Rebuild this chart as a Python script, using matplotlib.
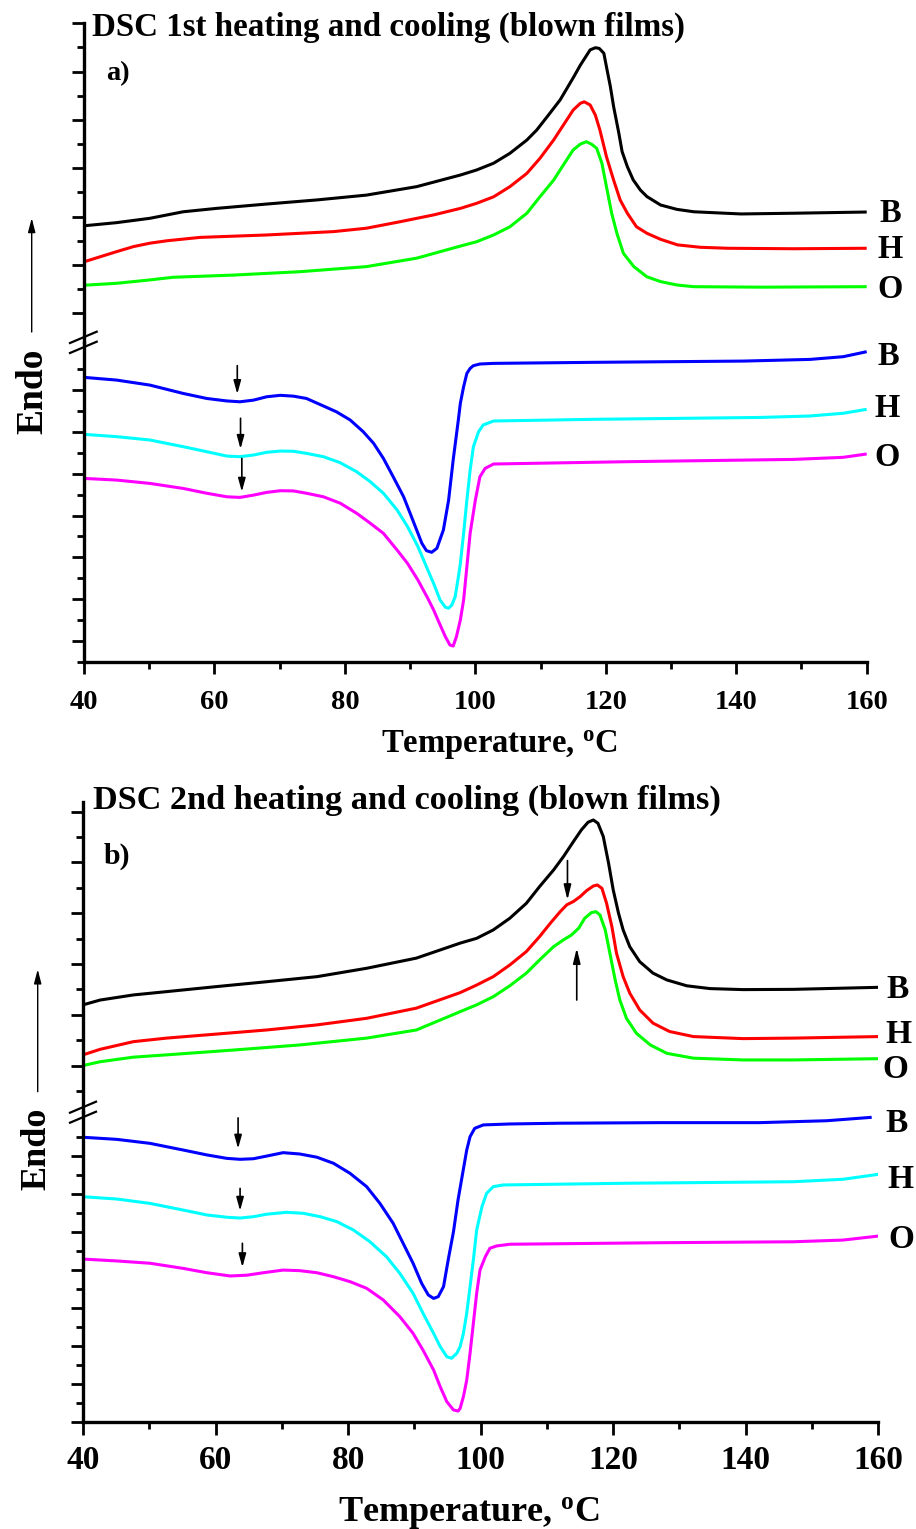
import matplotlib
matplotlib.use('Agg')
import matplotlib.pyplot as plt
from matplotlib.lines import Line2D
from matplotlib.patches import FancyArrowPatch
from matplotlib.ticker import FixedLocator, MultipleLocator

plt.rcParams['font.family'] = ['Liberation Serif', 'DejaVu Serif']
plt.rcParams['font.weight'] = 'bold'
plt.rcParams['mathtext.fontset'] = 'custom'
plt.rcParams['mathtext.rm'] = 'Liberation Serif:bold'
plt.rcParams['mathtext.bf'] = 'Liberation Serif:bold'
plt.rcParams['mathtext.it'] = 'Liberation Serif:bold:italic'

# ---------------- data (arbitrary heat-flow units, offset curves) ----------------
# Panel a) 1st heating (upper part)
a_heat_B_T = [40, 45.0, 50.1, 55.2, 60.3, 68.0, 75.7, 83.3, 91.0, 97.7, 100.2, 102.8, 105.3,
              107.9, 109.4, 111.0, 113.0, 115.1, 116.1, 117.6, 118.4, 119.0, 119.7, 120.1,
              120.7, 121.2, 122.0, 122.5, 123.3, 124.2, 125.3, 126.3, 128.4, 130.9, 133.5,
              140.7, 148.8, 160]
a_heat_B_V = [3.62, 3.75, 3.93, 4.2, 4.34, 4.52, 4.69, 4.89, 5.24, 5.72, 5.93, 6.21, 6.62,
              7.17, 7.58, 8.13, 8.83, 9.79, 10.27, 10.9, 10.99, 10.96, 10.76, 10.2,
              9.38, 8.55, 7.45, 6.69, 6.07, 5.52, 5.1, 4.83, 4.48, 4.3, 4.2,
              4.11, 4.14, 4.19]
a_heat_H_T = [40, 42.5, 45.0, 47.6, 50.1, 52.7, 57.8, 68.0, 78.3, 83.3, 88.5, 93.6, 97.7,
              100.2, 102.8, 105.3, 107.9, 109.9, 112.0, 113.5, 115.0, 116.1, 116.7, 117.6,
              118.4, 119.1, 120.1, 121.2, 122.2, 123.3, 124.7, 126.3, 128.4, 131.0, 134.5,
              138.7, 148.8, 160]
a_heat_H_V = [2.13, 2.34, 2.55, 2.76, 2.9, 3.0, 3.14, 3.24, 3.38, 3.52, 3.79, 4.07, 4.34,
              4.55, 4.82, 5.24, 5.79, 6.41, 7.17, 7.79, 8.41, 8.69, 8.75, 8.62,
              8.2, 7.58, 6.48, 5.51, 4.69, 4.14, 3.58, 3.31, 3.06, 2.83, 2.73,
              2.69, 2.67, 2.69]
a_heat_O_T = [40, 45.0, 50.1, 53.7, 62.9, 73.1, 83.3, 91.0, 97.7, 100.2, 102.8, 105.3, 107.9,
              109.9, 112.0, 113.5, 115.0, 116.1, 117.0, 117.8, 118.6, 119.4, 120.1, 120.9,
              121.7, 122.7, 124.3, 126.3, 128.4, 130.9, 133.5, 143.7, 160]
a_heat_O_V = [1.16, 1.24, 1.38, 1.49, 1.58, 1.72, 1.93, 2.28, 2.78, 2.96, 3.24, 3.58, 4.14,
              4.82, 5.51, 6.14, 6.76, 7.0, 7.1, 7.0, 6.83, 6.21, 5.24, 4.14,
              3.31, 2.48, 1.93, 1.51, 1.31, 1.17, 1.1, 1.08, 1.1]

# Panel a) 1st cooling (lower part)
a_cool_B_T = [40, 45.0, 50.1, 55.2, 58.8, 61.9, 63.9, 66.0, 68.0, 70.1, 72.1, 74.1, 76.7,
              78.7, 80.8, 82.8, 84.4, 85.9, 87.4, 89.0, 90.0, 91.0, 91.8, 92.5, 93.3, 94.1,
              95.1, 95.9, 96.6, 97.4, 97.7, 98.2, 98.7, 99.2, 99.7, 100.7, 102.8, 118.1,
              141.1, 151.3, 156.4, 160]
a_cool_B_V = [13.62, 13.49, 13.25, 12.85, 12.61, 12.49, 12.45, 12.53, 12.69, 12.76, 12.72,
              12.61, 12.25, 11.97, 11.58, 11.02, 10.46, 9.74, 8.86, 7.9, 7.11, 6.31, 5.67,
              5.32, 5.24, 5.43, 6.31, 7.74, 9.66, 11.6, 12.38, 13.17, 13.81, 14.05, 14.18,
              14.26, 14.29, 14.34, 14.4, 14.48, 14.61, 14.85]
a_cool_H_T = [40, 45.0, 50.1, 55.2, 58.8, 61.9, 63.9, 66.0, 68.0, 70.1, 72.1, 74.1, 76.7,
              79.3, 81.8, 83.9, 85.9, 88.0, 89.6, 91.2, 92.5, 93.6, 94.6, 95.4, 95.9, 96.4,
              96.9, 97.4, 97.7, 98.2, 98.7, 99.2, 99.7, 100.5, 101.2, 102.8, 118.1, 143.7,
              151.3, 156.4, 160]
a_cool_H_V = [10.89, 10.78, 10.62, 10.3, 10.06, 9.85, 9.82, 9.9, 10.03, 10.09, 10.08, 9.98,
              9.82, 9.53, 9.1, 8.62, 8.07, 7.27, 6.47, 5.51, 4.55, 3.75, 2.95, 2.61, 2.56,
              2.72, 3.11, 4.07, 4.7, 6.15, 7.74, 9.18, 10.3, 11.02, 11.34, 11.53, 11.61,
              11.7, 11.77, 11.9, 12.09]
a_cool_O_T = [40, 45.0, 50.1, 55.2, 58.8, 61.9, 63.9, 66.0, 68.0, 70.1, 72.1, 74.1, 76.7,
              79.3, 81.8, 83.9, 85.9, 88.0, 89.6, 91.2, 92.7, 93.6, 94.6, 95.4, 96.1, 96.6,
              97.1, 97.7, 98.2, 98.7, 99.2, 100.0, 100.7, 101.5, 102.8, 123.2, 148.8, 156.4,
              160]
a_cool_O_V = [8.78, 8.7, 8.54, 8.3, 8.07, 7.9, 7.87, 7.98, 8.11, 8.19, 8.18, 8.07, 7.9,
              7.59, 7.11, 6.63, 6.15, 5.35, 4.71, 3.91, 3.04, 2.48, 1.76, 1.2, 0.8, 0.75,
              1.2, 2.0, 2.95, 4.55, 6.15, 7.74, 8.86, 9.26, 9.47, 9.58, 9.69, 9.79,
              9.95]

# Panel b) 2nd heating (upper part)
b_heat_B_T = [40, 42.6, 47.6, 52.6, 60.2, 67.7, 75.3, 82.8, 90.3, 96.9, 99.4, 101.9, 104.4,
              106.9, 108.9, 111.0, 112.5, 114.0, 115.2, 116.2, 117.0, 117.7, 118.5, 119.3,
              120.0, 120.8, 121.5, 122.5, 124.0, 126.0, 128.1, 131.1, 134.6, 139.6, 147.2,
              160]
b_heat_B_V = [3.39, 3.58, 3.78, 3.91, 4.11, 4.3, 4.5, 4.83, 5.23, 5.82, 6.01, 6.34, 6.8,
              7.39, 8.05, 8.7, 9.23, 9.82, 10.28, 10.58, 10.67, 10.54, 10.02, 8.97,
              7.92, 7.0, 6.34, 5.68, 5.09, 4.64, 4.37, 4.14, 4.03, 3.99, 4.0,
              4.08]
b_heat_H_T = [40, 42.6, 47.6, 52.6, 60.2, 67.7, 75.3, 82.8, 90.3, 96.9, 99.4, 101.9, 104.4,
              106.9, 108.9, 110.5, 112.0, 113.0, 114.0, 115.0, 116.0, 117.0, 117.6, 118.3,
              119.0, 119.8, 120.5, 121.5, 122.5, 124.0, 126.0, 128.5, 132.1, 139.6, 147.2,
              160]
b_heat_H_V = [1.42, 1.64, 1.94, 2.08, 2.24, 2.4, 2.6, 2.86, 3.26, 3.87, 4.17, 4.5, 4.96,
              5.49, 6.08, 6.6, 7.06, 7.33, 7.46, 7.65, 7.89, 8.07, 8.11, 7.98,
              7.39, 6.47, 5.42, 4.5, 3.85, 3.19, 2.67, 2.34, 2.14, 2.06, 2.08,
              2.14]
b_heat_O_T = [40, 42.6, 47.6, 52.6, 62.7, 72.7, 82.8, 90.3, 96.9, 99.4, 101.9, 104.4, 106.9,
              108.9, 111.0, 112.5, 113.7, 114.8, 115.7, 116.7, 117.4, 118.0, 118.8, 119.5,
              120.3, 121.0, 122.0, 123.5, 125.6, 128.1, 132.1, 139.6, 147.2, 160]
b_heat_O_V = [1.0, 1.15, 1.33, 1.42, 1.61, 1.81, 2.08, 2.4, 3.12, 3.39, 3.71, 4.14, 4.64,
              5.16, 5.68, 5.95, 6.14, 6.41, 6.8, 7.02, 7.06, 6.93, 6.34, 5.42,
              4.37, 3.58, 2.86, 2.27, 1.81, 1.48, 1.29, 1.22, 1.22, 1.27]

# Panel b) 2nd cooling (lower part)
b_cool_B_T = [40, 45.1, 50.1, 55.1, 58.7, 61.7, 63.7, 65.7, 67.7, 70.2, 72.7, 75.3, 77.8,
              80.3, 82.8, 84.8, 86.8, 88.3, 89.8, 91.1, 92.1, 92.9, 93.6, 94.4, 95.1, 95.9,
              96.6, 97.4, 97.9, 98.4, 99.1, 100.4, 104.4, 112.0, 127.1, 142.1, 152.2, 159.0]
b_cool_B_V = [14.97, 14.86, 14.65, 14.3, 14.04, 13.86, 13.81, 13.84, 13.98, 14.16, 14.09,
              13.92, 13.6, 13.07, 12.37, 11.49, 10.44, 9.39, 8.34, 7.28, 6.67, 6.49, 6.58,
              7.11, 8.51, 10.0, 11.7, 13.3, 14.3, 15.0, 15.44, 15.62, 15.67, 15.71,
              15.74, 15.74, 15.84, 16.02]
b_cool_H_T = [40, 45.1, 50.1, 55.1, 58.7, 61.7, 63.7, 65.7, 67.7, 70.7, 73.2, 75.8, 78.3,
              80.8, 83.3, 85.8, 87.8, 89.8, 91.3, 92.9, 93.9, 94.9, 95.6, 96.4, 96.9, 97.4,
              97.9, 98.4, 98.9, 99.4, 100.2, 100.9, 101.9, 103.4, 122.0, 147.2, 154.7, 160]
b_cool_H_V = [11.84, 11.72, 11.49, 11.14, 10.88, 10.76, 10.72, 10.79, 10.92, 11.02, 10.97,
              10.79, 10.53, 10.09, 9.47, 8.68, 7.81, 6.76, 5.71, 4.65, 3.95, 3.42, 3.34,
              3.6, 3.95, 4.65, 5.71, 7.11, 8.51, 10.09, 11.32, 12.02, 12.37, 12.46, 12.55,
              12.63, 12.76, 13.02]
b_cool_O_T = [40, 45.1, 50.1, 55.1, 58.7, 62.2, 64.7, 67.2, 70.2, 72.7, 75.3, 77.8, 80.3,
              82.8, 85.3, 87.8, 89.8, 91.3, 92.9, 93.9, 94.9, 95.9, 96.6, 96.9, 97.4, 97.9,
              98.4, 98.9, 99.4, 99.9, 100.7, 101.4, 102.4, 104.4, 127.1, 147.2, 154.7, 160]
b_cool_O_V = [8.56, 8.46, 8.34, 8.07, 7.84, 7.67, 7.71, 7.84, 7.98, 7.95, 7.84, 7.63, 7.37,
              7.02, 6.41, 5.53, 4.65, 3.77, 2.72, 1.84, 1.05, 0.62, 0.56, 0.7, 1.32, 2.19,
              3.6, 5.18, 6.76, 7.98, 8.68, 9.13, 9.25, 9.34, 9.42, 9.47, 9.56, 9.77]

# small marker arrows (temperature, tail value, tip value)
a_cool_arrow_T = [63.5, 64.0, 64.2]
a_cool_arrow_tail = [14.18, 11.66, 9.74]
a_cool_arrow_tip = [12.82, 10.19, 8.14]
b_heat_arrow_T = [113.1, 114.5]
b_heat_arrow_tail = [9.07, 3.58]
b_heat_arrow_tip = [7.52, 5.62]
b_cool_arrow_T = [63.4, 63.7, 64.05]
b_cool_arrow_tail = [15.99, 12.28, 9.39]
b_cool_arrow_tip = [14.37, 11.1, 8.13]

sample_labels = ['B', 'H', 'O']
x_ticks = [40, 60, 80, 100, 120, 140, 160]
heat_colors = ['#000000', '#FF0000', '#00FF00']
cool_colors = ['#0000FF', '#00FFFF', '#FF00FF']

# ---------------- figure ----------------
W, H = 916, 1529
fig = plt.figure(figsize=(W / 100, H / 100), dpi=100)
PT = 0.72  # points per pixel at 100 dpi


def add_ax(left, top, right, bottom):
    return fig.add_axes([left / W, 1 - bottom / H, (right - left) / W, (bottom - top) / H])


def fig_line(x0, y0, x1, y1, lw=1.6):
    fig.add_artist(Line2D([x0 / W, x1 / W], [1 - y0 / H, 1 - y1 / H],
                          transform=fig.transFigure, color='k', lw=lw))


def fig_arrow(x, y0, y1, lw=1.0):
    fig.add_artist(FancyArrowPatch((x / W, 1 - y0 / H), (x / W, 1 - y1 / H),
                                   transform=fig.transFigure,
                                   arrowstyle='-|>,head_length=0.85,head_width=0.22',
                                   mutation_scale=10, lw=lw, color='k',
                                   shrinkA=0, shrinkB=0))


def setup_pair(ax_up, ax_lo, ylim_up, ylim_lo, maj_up, min_up, maj_lo, min_lo,
               tick_fs, pad, xmaj_len):
    for ax in (ax_up, ax_lo):
        ax.set_xlim(40, 160)
        ax.patch.set_alpha(0)
        for s in ('top', 'right'):
            ax.spines[s].set_visible(False)
        ax.spines['left'].set_linewidth(2.4)
        ax.spines['bottom'].set_linewidth(2.4)
    ax_up.spines['bottom'].set_visible(False)
    ax_up.set_ylim(*ylim_up)
    ax_lo.set_ylim(*ylim_lo)
    ax_up.yaxis.set_major_locator(FixedLocator(maj_up))
    ax_up.yaxis.set_minor_locator(FixedLocator(min_up))
    ax_lo.yaxis.set_major_locator(FixedLocator(maj_lo))
    ax_lo.yaxis.set_minor_locator(FixedLocator(min_lo))
    for ax in (ax_up, ax_lo):
        ax.tick_params(axis='y', which='major', direction='out', length=12 * PT, width=2.0,
                       labelleft=False)
        ax.tick_params(axis='y', which='minor', direction='out', length=7 * PT, width=2.0)
    ax_up.tick_params(axis='x', which='both', bottom=False, labelbottom=False)
    ax_lo.xaxis.set_major_locator(FixedLocator(x_ticks))
    ax_lo.xaxis.set_minor_locator(MultipleLocator(10))
    ax_lo.set_xticklabels([str(t) for t in x_ticks])
    ax_lo.tick_params(axis='x', which='major', direction='out', length=xmaj_len * PT,
                      width=2.0, labelsize=tick_fs, pad=pad)
    ax_lo.tick_params(axis='x', which='minor', direction='out', length=7 * PT, width=2.0)


def draw_curves(ax, Ts, Vs, colors, label_dx, label_dy, label_fs):
    for T, V, c, lab, dx, dy in zip(Ts, Vs, colors, sample_labels, label_dx, label_dy):
        ax.plot(T, V, color=c, lw=2.2, solid_capstyle='butt', solid_joinstyle='round')
        ax.annotate(lab, xy=(160, V[-1]), xycoords='data',
                    xytext=(dx * PT, dy * PT), textcoords='offset points',
                    ha='center', va='baseline', fontsize=label_fs, fontweight='bold',
                    annotation_clip=False)


def draw_marks(ax, T, tails, tips, hl=0.8):
    for t, a, b in zip(T, tails, tips):
        ax.annotate('', xy=(t, b), xytext=(t, a), xycoords='data',
                    arrowprops=dict(arrowstyle='-|>,head_length=%g,head_width=0.22' % hl,
                                    color='k', lw=1.2, mutation_scale=10,
                                    shrinkA=0, shrinkB=0))


# ---------- panel a ----------
axa_up = add_ax(84, 23.3, 866.7, 342.5)
axa_lo = add_ax(84, 342.5, 866.7, 661.7)
setup_pair(axa_up, axa_lo, (-1.21, 12), (0, 15.29),
           list(range(0, 13, 2)), list(range(1, 12, 2)),
           list(range(1, 14, 2)), list(range(0, 15, 2)),
           tick_fs=20.5, pad=16 * PT, xmaj_len=12)
draw_curves(axa_up, [a_heat_B_T, a_heat_H_T, a_heat_O_T],
            [a_heat_B_V, a_heat_H_V, a_heat_O_V], heat_colors,
            [23.3, 23.3, 23.3], [-9.7, -10, -11], 23.5)
draw_curves(axa_lo, [a_cool_B_T, a_cool_H_T, a_cool_O_T],
            [a_cool_B_V, a_cool_H_V, a_cool_O_V], cool_colors,
            [21.6, 20, 20], [-13.3, -7.3, -12], 23.5)
draw_marks(axa_lo, a_cool_arrow_T, a_cool_arrow_tail, a_cool_arrow_tip)

fig.text(92 / W, 1 - 36 / H, 'DSC 1st heating and cooling (blown films)',
         ha='left', va='baseline', fontsize=23.8, fontweight='bold')
fig.text(106 / W, 1 - 80 / H, 'a)', ha='left', va='baseline', fontsize=20.5,
         fontweight='bold')
fig.text(499 / W, 1 - 753 / H, r'Temperature, $^{\mathrm{o}}$C', ha='center',
         va='baseline', fontsize=23.5, fontweight='bold')
fig.text(42.7 / W, 1 - 391.5 / H, 'Endo', rotation=90, rotation_mode='anchor',
         ha='center', va='baseline', fontsize=27, fontweight='bold')
fig_arrow(31.7, 332, 218)
# axis break marks
fig_line(70, 343, 96.7, 331.7)
fig_line(70, 353, 96.7, 341.7)

# ---------- panel b ----------
axb_up = add_ax(83, 801.7, 878.3, 1112)
axb_lo = add_ax(83, 1112, 878.3, 1421.7)
setup_pair(axb_up, axb_lo, (-0.83, 11.39), (0, 16.3),
           list(range(1, 12, 2)), list(range(0, 11, 2)),
           list(range(0, 15, 2)), list(range(1, 16, 2)),
           tick_fs=24, pad=10 * PT, xmaj_len=13)
draw_curves(axb_up, [b_heat_B_T, b_heat_H_T, b_heat_O_T],
            [b_heat_B_V, b_heat_H_V, b_heat_O_V], heat_colors,
            [19.2, 20, 16.7], [-11, -6.7, -19], 24)
draw_curves(axb_lo, [b_cool_B_T, b_cool_H_T, b_cool_O_T],
            [b_cool_B_V, b_cool_H_V, b_cool_O_V], cool_colors,
            [18.4, 22.5, 23.4], [-14.3, -14, -11.5], 24)
draw_marks(axb_up, b_heat_arrow_T, b_heat_arrow_tail, b_heat_arrow_tip, hl=0.9)
draw_marks(axb_lo, b_cool_arrow_T, b_cool_arrow_tail, b_cool_arrow_tip)

fig.text(93 / W, 1 - 809 / H, 'DSC 2nd heating and cooling (blown films)',
         ha='left', va='baseline', fontsize=24.7, fontweight='bold')
fig.text(103.3 / W, 1 - 864 / H, 'b)', ha='left', va='baseline', fontsize=21.5,
         fontweight='bold')
fig.text(469 / W, 1 - 1521 / H, r'Temperature, $^{\mathrm{o}}$C', ha='center',
         va='baseline', fontsize=26, fontweight='bold')
fig.text(45 / W, 1 - 1149 / H, 'Endo', rotation=90, rotation_mode='anchor',
         ha='center', va='baseline', fontsize=26, fontweight='bold')
fig_arrow(37.7, 1091.7, 969.3)
fig_line(70, 1112.7, 96, 1101.7)
fig_line(70, 1122.7, 96, 1111.7)

fig.savefig('out.png', dpi=100)
